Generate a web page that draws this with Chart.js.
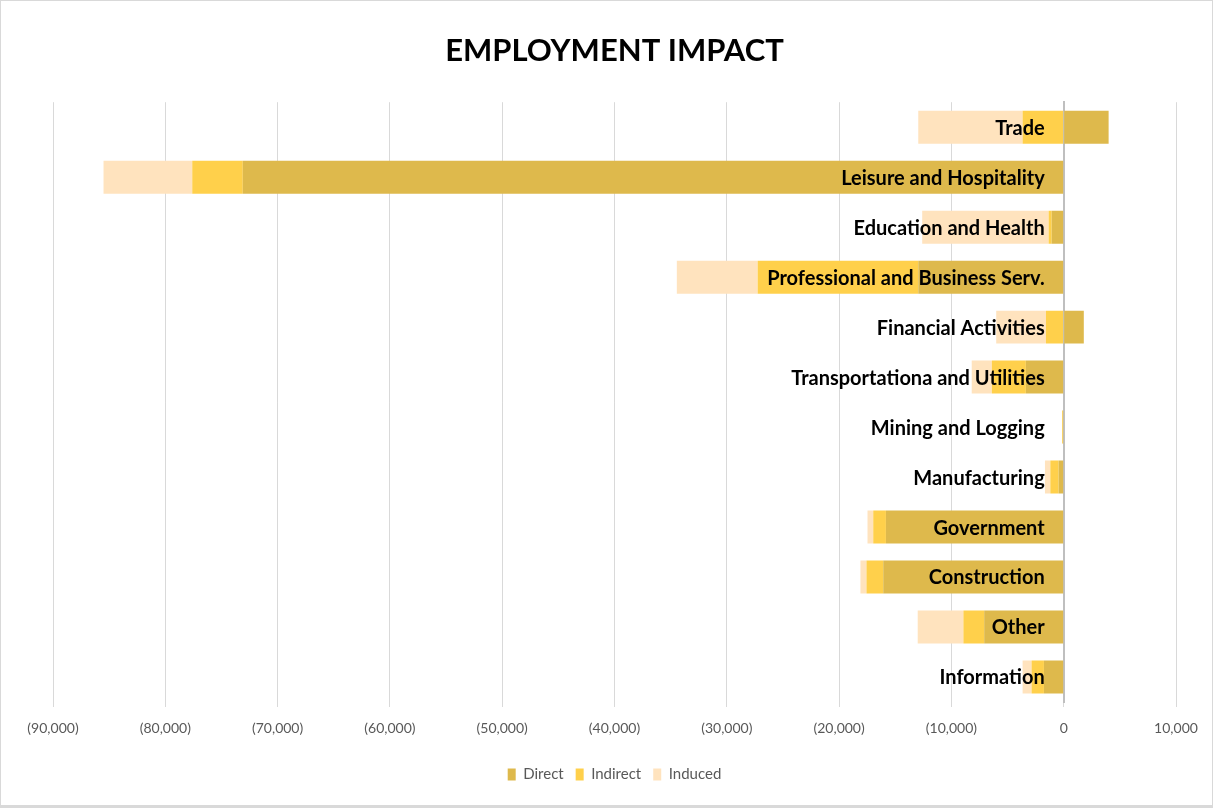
<!DOCTYPE html>
<html>
<head>
<meta charset="utf-8">
<script src="https://cdn.jsdelivr.net/npm/chart.js@4.4.1/dist/chart.umd.min.js"></script>
<style>
  html, body { margin: 0; padding: 0; background: #fff; }
  #wrap { position: absolute; left: 0; top: 0; width: 1211px; height: 804px; border: 1px solid #d9d9d9; border-bottom: 3px solid #d9d9d9; }
  canvas { display: block; }
</style>
</head>
<body>
<div id="wrap"><canvas id="chart" width="1211" height="804"></canvas></div>
<script>
var sectors = ['Trade', 'Leisure and Hospitality', 'Education and Health', 'Professional and Business Serv.',
    'Financial Activities', 'Transportationa and Utilities', 'Mining and Logging', 'Manufacturing',
    'Government', 'Construction', 'Other', 'Information'];
var direct   = [4000, -73100, -1070, -12950, 1790, -3370, -80, -450, -15830, -16070, -7080, -1760];
var indirect = [-3660, -4500, -270, -14300, -1580, -3030, -70, -740, -1130, -1490, -1850, -1100];
var induced  = [-9290, -7900, -11260, -7200, -4430, -1790, 0, -480, -510, -540, -4070, -800];

var xMin = -90000, xMax = 10000, xStep = 10000;

function fmt(v) {
    var s = Math.abs(v).toLocaleString('en-US');
    return v < 0 ? '(' + s + ')' : s;
}

// category names sit just left of the zero line, on top of the bars
var sectorLabels = {
    id: 'sectorLabels',
    afterDatasetsDraw: function (chart) {
        var c = chart.ctx, x = chart.scales.x, y = chart.scales.y;
        var x0 = x.getPixelForValue(0);
        c.save();
        c.font = 'bold 20px Lato';
        c.fillStyle = '#000';
        c.textAlign = 'right';
        c.textBaseline = 'middle';
        sectors.forEach(function (s, i) {
            c.fillText(s, x0 - 19, y.getPixelForValue(i) + 1);
        });
        c.restore();
    }
};

var ctx = document.getElementById('chart').getContext('2d');
var myChart = new Chart(ctx, {
    type: 'bar',
    data: {
        labels: sectors,
        datasets: [{
            label: 'Direct',
            data: direct,
            backgroundColor: 'rgb(222, 185, 76)'
        },
        {
            label: 'Indirect',
            data: indirect,
            backgroundColor: 'rgb(255, 208, 75)'
        },
        {
            label: 'Induced',
            data: induced,
            backgroundColor: 'rgb(255, 227, 190)'
        }]
    },
    options: {
        indexAxis: 'y',
        responsive: false,
        animation: false,
        layout: { padding: { left: 52, right: 36, top: 0, bottom: 13 } },
        datasets: { bar: { barPercentage: 0.66, categoryPercentage: 1 } },
        plugins: {
            title: {
                display: true,
                text: 'EMPLOYMENT IMPACT',
                color: '#000',
                font: { family: 'Lato', size: 31, weight: 'bold' },
                padding: { top: 31, bottom: 33 }
            },
            legend: {
                position: 'bottom',
                labels: {
                    boxWidth: 8,
                    boxHeight: 12,
                    color: '#595959',
                    font: { family: 'Lato', size: 15 },
                    padding: 12
                }
            },
            tooltip: { enabled: false }
        },
        scales: {
            x: {
                stacked: true,
                min: xMin,
                max: xMax,
                afterFit: function (s) { s.height = 53; },
                ticks: {
                    stepSize: xStep,
                    color: '#595959',
                    font: { family: 'Lato', size: 14 },
                    padding: 13,
                    maxRotation: 0,
                    callback: function (v) { return fmt(v); }
                },
                grid: { color: '#d9d9d9', tickLength: 5 },
                border: { display: false }
            },
            y: {
                stacked: true,
                position: { x: 0 },
                ticks: { display: false },
                grid: { display: false },
                border: { display: true, color: '#bfbfbf', width: 2 }
            }
        }
    },
    plugins: [sectorLabels]
});
</script>
</body>
</html>
